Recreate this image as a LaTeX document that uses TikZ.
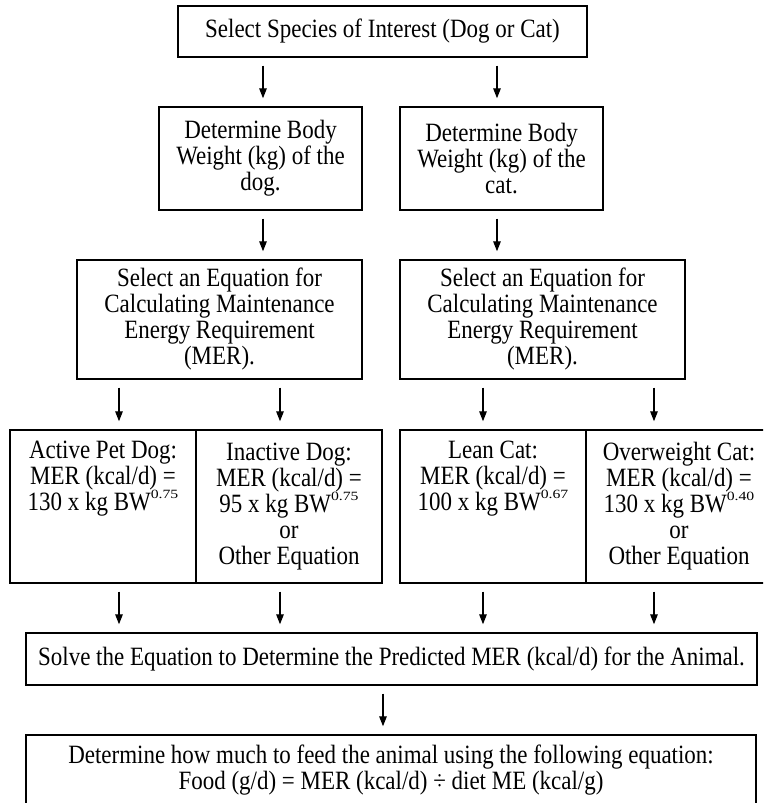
\documentclass[tikz,border=0pt]{standalone}
\usepackage{fontspec}
% a narrowed Times-like face, set large, for tall upright letters
\setmainfont{Liberation Serif}[FakeStretch=0.87]
% widened face for the small exponents
\newfontfamily\expofont{Liberation Serif}[FakeStretch=1.25]
\usetikzlibrary{arrows.meta}

% raised exponent, set small like the rest of the equations
\newcommand{\expo}[1]{\raisebox{12pt}{\expofont\fontsize{12.6}{13}\selectfont #1}}

\begin{document}
\begin{tikzpicture}[x=1pt,y=-1pt,
  box/.style={draw=black, line width=1.4pt, rectangle, inner sep=0pt, align=center,
              font=\fontsize{26.4}{26}\selectfont},
  txt/.style={inner sep=0pt, align=center, font=\fontsize{26.4}{26}\selectfont},
  arr/.style={draw=black, line width=1.3pt, -{Triangle[length=10pt,width=7.5pt]},
              shorten <=8pt, shorten >=8pt}]
  \useasboundingbox (0,0) rectangle (763,803);
  \clip (0,0) rectangle (763,803);

  % species choice
  \node[box, minimum width=409, minimum height=51] (species) at (382.5,31.5)
    {Select Species of Interest (Dog or Cat)};

  % body weight
  \node[box, minimum width=203, minimum height=103] (dogbw) at (260.5,158.5)
    {Determine Body\\Weight (kg) of the\\dog.};
  \node[box, minimum width=203, minimum height=103] (catbw) at (501.5,158.5)
    {Determine Body\\Weight (kg) of the\\cat.};

  % choice of MER equation
  \node[box, minimum width=285, minimum height=119] (dogsel) at (219.5,319.5)
    {Select an Equation for\\Calculating Maintenance\\Energy Requirement\\(MER).};
  \node[box, minimum width=285, minimum height=119] (catsel) at (542.5,319.5)
    {Select an Equation for\\Calculating Maintenance\\Energy Requirement\\(MER).};

  % equation cells
  \node[box, minimum width=186, minimum height=153] (active) at (103,506.5) {};
  \node[txt] (activetxt) at (103,479)
    {Active Pet Dog:\\MER (kcal/d) =\\130 x kg BW\expo{0.75}};
  \node[box, minimum width=186, minimum height=153] (inactive) at (289,506.5)
    {Inactive Dog:\\MER (kcal/d) =\\95 x kg BW\expo{0.75}\\or\\Other Equation};
  \node[box, minimum width=186, minimum height=153] (lean) at (493,506.5) {};
  \node[txt] (leantxt) at (493,479)
    {Lean Cat:\\MER (kcal/d) =\\100 x kg BW\expo{0.67}};
  \node[box, minimum width=186, minimum height=153] (over) at (679,506.5)
    {Overweight Cat:\\MER (kcal/d) =\\130 x kg BW\expo{0.40}\\or\\Other Equation};

  % solving and feeding
  \node[box, minimum width=731, minimum height=52] (solve) at (391.5,659)
    {Solve the Equation to Determine the Predicted MER (kcal/d) for the Animal.};
  \node[box, minimum width=730, minimum height=90] (feed) at (391,780) {};
  \node[txt] (feedtxt) at (391,770)
    {Determine how much to feed the animal using the following equation:\\
     Food (g/d) = MER (kcal/d) \char"00F7{} diet ME (kcal/g)};

  % connectors
  \draw[arr] (species.south -| 263,0) -- (dogbw.north -| 263,0);
  \draw[arr] (species.south -| 497,0) -- (catbw.north -| 497,0);
  \draw[arr] (dogbw.south -| 263,0) -- (dogsel.north -| 263,0);
  \draw[arr] (catbw.south -| 497,0) -- (catsel.north -| 497,0);
  \draw[arr] (dogsel.south -| 119,0) -- (active.north -| 119,0);
  \draw[arr] (dogsel.south -| 280,0) -- (inactive.north -| 280,0);
  \draw[arr] (catsel.south -| 483,0) -- (lean.north -| 483,0);
  \draw[arr] (catsel.south -| 654,0) -- (over.north -| 654,0);
  \draw[arr] (active.south -| 119,0) -- (solve.north -| 119,0);
  \draw[arr] (inactive.south -| 280,0) -- (solve.north -| 280,0);
  \draw[arr] (lean.south -| 483,0) -- (solve.north -| 483,0);
  \draw[arr] (over.south -| 654,0) -- (solve.north -| 654,0);
  \draw[arr] (solve.south -| 383,0) -- (feed.north -| 383,0);
\end{tikzpicture}
\end{document}
